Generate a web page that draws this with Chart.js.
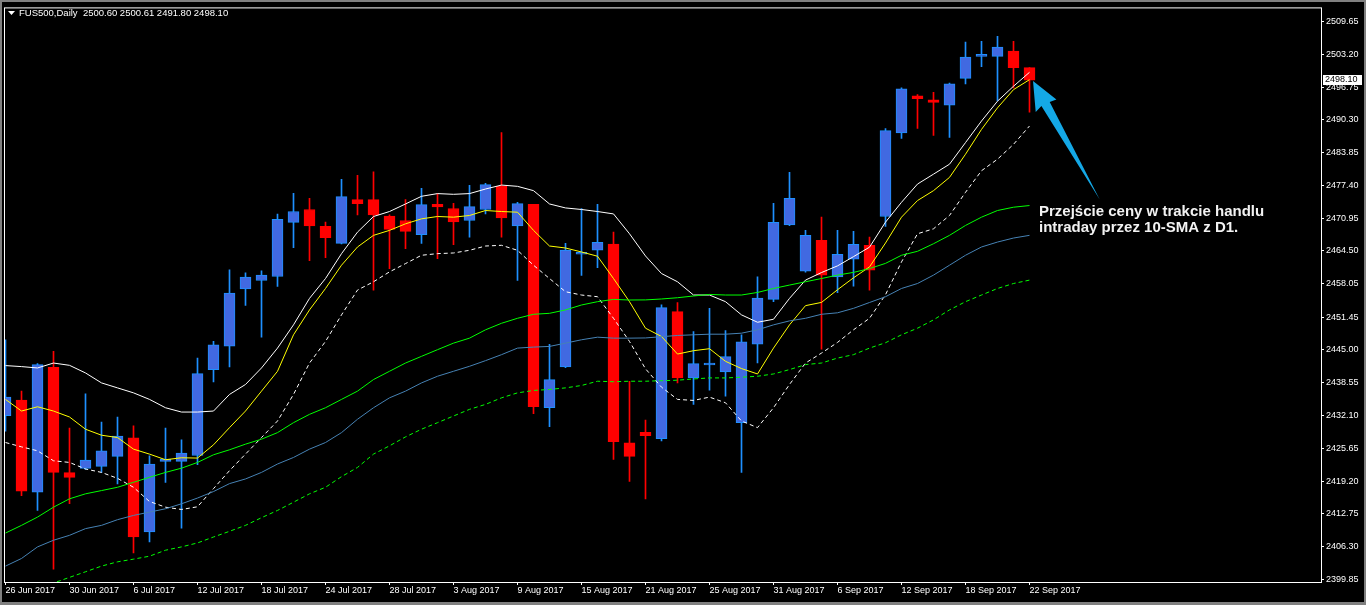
<!DOCTYPE html>
<html><head><meta charset="utf-8">
<script src="https://cdn.jsdelivr.net/npm/chart.js@4.4.0/dist/chart.umd.min.js"></script>
<style>html,body{margin:0;padding:0;background:#000;overflow:hidden}canvas{display:block}</style>
</head><body>
<canvas id="c" width="1366" height="605" style="width:1366px;height:605px"></canvas>
<script>
// ---- categories (trading days) ----
const days = ['26 Jun 2017','27 Jun 2017','28 Jun 2017','29 Jun 2017','30 Jun 2017',
 '3 Jul 2017','4 Jul 2017','5 Jul 2017','6 Jul 2017','7 Jul 2017','10 Jul 2017','11 Jul 2017','12 Jul 2017','13 Jul 2017','14 Jul 2017',
 '17 Jul 2017','18 Jul 2017','19 Jul 2017','20 Jul 2017','21 Jul 2017','24 Jul 2017','25 Jul 2017','26 Jul 2017','27 Jul 2017','28 Jul 2017','31 Jul 2017',
 '1 Aug 2017','2 Aug 2017','3 Aug 2017','4 Aug 2017','7 Aug 2017','8 Aug 2017','9 Aug 2017','10 Aug 2017','11 Aug 2017','14 Aug 2017','15 Aug 2017',
 '16 Aug 2017','17 Aug 2017','18 Aug 2017','21 Aug 2017','22 Aug 2017','23 Aug 2017','24 Aug 2017','25 Aug 2017','28 Aug 2017','29 Aug 2017','30 Aug 2017','31 Aug 2017',
 '1 Sep 2017','4 Sep 2017','5 Sep 2017','6 Sep 2017','7 Sep 2017','8 Sep 2017','11 Sep 2017','12 Sep 2017','13 Sep 2017','14 Sep 2017','15 Sep 2017',
 '18 Sep 2017','19 Sep 2017','20 Sep 2017','21 Sep 2017','22 Sep 2017'];

// ---- OHLC ----
const open = [2432.06,2435.13,2416.99,2441.59,2420.85,2421.69,2422.08,2424.04,2427.70,2409.16,
 2423.06,2423.06,2424.23,2441.14,2445.76,2457.00,2458.68,2459.46,2470.11,2472.66,
 2469.33,2466.00,2474.61,2474.61,2471.34,2470.50,2467.68,2473.69,2472.85,2470.50,
 2472.66,2477.22,2469.45,2473.69,2433.63,2441.65,2463.85,2464.63,2465.86,2426.72,
 2428.81,2427.56,2452.55,2439.50,2442.04,2440.67,2430.69,2446.16,2454.96,2469.64,
 2460.52,2466.59,2459.41,2462.87,2465.61,2471.28,2487.73,2495.03,2494.24,2493.21,
 2498.49,2502.80,2502.80,2503.83,2500.60];
const high = [2447.00,2436.90,2442.30,2444.72,2429.60,2436.37,2430.83,2431.81,2430.05,2424.17,
 2429.60,2427.30,2443.41,2446.68,2460.77,2460.19,2460.58,2471.74,2475.85,2474.87,
 2470.17,2478.59,2479.37,2480.09,2471.60,2474.61,2476.82,2475.79,2473.89,2477.41,
 2477.80,2487.79,2474.08,2473.70,2446.10,2465.99,2472.85,2473.69,2468.21,2438.85,
 2431.22,2453.87,2454.32,2448.64,2453.20,2448.84,2447.99,2459.41,2473.89,2479.96,
 2468.55,2471.15,2468.55,2468.35,2467.23,2488.57,2496.59,2495.28,2495.75,2497.57,
 2505.60,2505.79,2506.77,2505.79,2500.61];
const low = [2429.00,2416.34,2413.41,2401.86,2414.72,2421.50,2420.91,2418.63,2405.05,2407.20,
 2418.95,2409.94,2422.41,2438.72,2441.65,2453.79,2447.52,2457.51,2465.14,2462.59,
 2463.18,2465.90,2471.60,2456.80,2461.03,2464.94,2466.00,2462.99,2465.73,2467.23,
 2471.79,2467.23,2458.68,2432.45,2429.91,2441.50,2459.66,2461.22,2423.45,2419.14,
 2415.70,2427.11,2438.52,2434.29,2437.09,2435.92,2420.91,2442.43,2454.51,2469.50,
 2460.30,2445.17,2456.27,2457.58,2456.80,2469.33,2486.67,2488.63,2487.26,2486.87,
 2497.38,2500.76,2494.11,2496.59,2491.80];
const close = [2435.72,2417.19,2442.12,2420.91,2419.93,2423.33,2425.15,2428.03,2408.18,2422.55,
 2423.53,2424.70,2440.36,2446.03,2456.21,2459.35,2459.74,2470.70,2472.26,2469.45,
 2467.10,2475.20,2473.83,2471.60,2468.74,2468.35,2473.63,2473.16,2470.23,2473.24,
 2477.55,2471.01,2473.83,2433.82,2439.18,2464.69,2464.24,2466.20,2426.97,2424.04,
 2428.15,2453.34,2439.50,2442.32,2442.43,2443.69,2446.62,2455.24,2470.11,2474.87,
 2467.57,2459.74,2463.85,2465.80,2460.72,2488.18,2496.40,2494.50,2493.72,2497.38,
 2502.66,2503.19,2504.62,2500.60,2498.10];

// ---- indicator lines ----
const maUpper = [2441.93,2441.73,2441.46,2442.43,2441.98,2440.48,2438.52,2437.54,2436.56,2435.27,
 2433.63,2432.78,2432.78,2432.98,2436.25,2438.21,2441.46,2445.37,2449.95,2455.16,
 2459.07,2463.96,2468.21,2471.28,2472.26,2473.75,2475.26,2475.79,2475.65,2475.79,
 2476.69,2477.47,2477.22,2476.37,2473.75,2472.97,2472.66,2472.26,2471.79,2467.88,
 2463.51,2460.05,2458.43,2455.82,2455.82,2454.51,2451.91,2450.46,2451.05,2455.16,
 2458.76,2460.25,2461.56,2463.38,2465.24,2470.17,2474.08,2477.67,2479.62,2481.58,
 2485.83,2490.08,2493.99,2496.93,2499.67];
const sma10 = [2435.27,2432.98,2433.82,2432.98,2431.81,2429.40,2428.22,2427.76,2425.48,2424.50,
 2423.39,2423.78,2423.72,2426.33,2429.71,2432.98,2436.90,2440.81,2447.99,2452.89,
 2457.11,2461.69,2465.28,2467.57,2468.55,2469.84,2470.82,2471.28,2471.15,2471.48,
 2472.46,2472.26,2472.13,2468.55,2465.47,2465.08,2464.30,2463.46,2459.07,2454.51,
 2449.29,2447.66,2444.20,2444.86,2445.25,2442.77,2441.34,2440.28,2445.37,2449.95,
 2453.73,2454.37,2456.86,2459.21,2461.36,2466.06,2471.15,2474.42,2476.37,2478.98,
 2483.54,2488.43,2492.68,2496.26,2498.22];
const maLower = [2426.78,2425.93,2425.15,2423.19,2422.86,2421.57,2420.90,2419.73,2417.97,2415.17,
 2414.05,2413.60,2414.13,2417.71,2421.24,2424.50,2427.76,2431.02,2436.25,2442.43,
 2446.68,2451.91,2456.80,2458.43,2460.38,2462.01,2463.65,2463.97,2464.10,2464.63,
 2465.47,2465.61,2464.63,2461.69,2459.07,2456.47,2455.82,2455.49,2451.24,2446.68,
 2441.30,2437.68,2435.27,2435.07,2435.72,2434.61,2431.02,2429.71,2433.63,2438.21,
 2442.43,2444.39,2446.49,2448.97,2451.24,2455.88,2462.34,2467.88,2468.86,2471.48,
 2476.04,2480.29,2482.56,2485.49,2489.10];
const maGreen = [2408.96,2410.47,2412.10,2414.05,2415.70,2416.68,2417.32,2417.97,2418.95,2419.93,
 2420.90,2421.73,2422.86,2424.37,2425.35,2426.46,2427.44,2428.73,2430.69,2432.33,
 2433.63,2435.27,2436.90,2439.18,2440.81,2442.43,2443.75,2445.06,2446.35,2447.33,
 2448.97,2450.26,2451.24,2452.03,2452.22,2452.89,2453.86,2454.51,2454.96,2454.84,
 2454.86,2455.04,2455.29,2455.63,2455.94,2455.82,2455.82,2456.33,2457.11,2457.78,
 2458.43,2459.07,2459.74,2460.28,2461.03,2462.05,2463.65,2464.43,2465.92,2467.57,
 2469.52,2471.15,2472.46,2473.11,2473.44];
const maSteel = [2402.45,2403.95,2406.23,2407.54,2408.51,2409.83,2410.47,2411.59,2412.43,2413.08,
 2413.74,2414.72,2415.85,2417.13,2418.69,2419.61,2420.90,2422.55,2423.84,2425.48,
 2426.78,2428.73,2431.36,2433.63,2435.58,2436.90,2438.52,2439.83,2440.81,2441.79,
 2442.90,2444.08,2445.37,2445.57,2445.70,2446.35,2447.01,2447.52,2447.33,2447.33,
 2447.37,2447.62,2447.86,2447.99,2448.11,2448.11,2448.31,2448.97,2449.95,2450.73,
 2451.24,2452.03,2452.32,2453.20,2454.35,2455.49,2457.11,2458.09,2459.74,2461.69,
 2463.65,2465.28,2466.25,2467.04,2467.57];
const maGreenLow = [2395.00,2396.40,2397.80,2399.12,2400.23,2401.33,2402.45,2403.29,2403.82,2404.40,
 2405.58,2406.23,2407.01,2408.18,2409.30,2410.47,2411.98,2413.41,2415.03,2416.68,
 2417.97,2420.06,2421.88,2424.50,2426.13,2427.89,2429.40,2430.69,2432.00,2433.31,
 2434.29,2435.58,2436.56,2437.03,2437.23,2437.54,2438.01,2438.85,2438.75,2438.85,
 2438.85,2438.95,2439.05,2439.30,2439.50,2439.50,2439.64,2439.83,2440.28,2441.14,
 2442.12,2442.43,2443.41,2444.08,2445.37,2446.43,2447.99,2449.29,2450.93,2452.89,
 2454.51,2455.82,2457.11,2458.09,2458.76];

// ---- axis tick labels ----
const priceTicks = [2509.65,2503.20,2496.75,2490.30,2483.85,2477.40,2470.95,2464.50,2458.05,
 2451.45,2445.00,2438.55,2432.10,2425.65,2419.20,2412.75,2406.30,2399.85];
const dateTickEvery = 4;
const symbolName = 'FUS500,Daily';
const noteLines = ['Przejście ceny w trakcie handlu', 'intraday przez 10-SMA z D1.'];

// ---- build ----
Chart.defaults.font.family = "'Liberation Sans', Arial, sans-serif";
const idx = days.map((d, i) => i);
const bull = idx.map(i => close[i] >= open[i]);
const dateTickIdx = idx.filter(i => i % dateTickEvery === 0);
const last = days.length - 1;

const BULL_FILL = '#4169E1', BULL_EDGE = '#1E90FF', BEAR = '#FF0000';

function lineDs(arr, color, dash) {
  return { type: 'line', data: arr.map((v, i) => ({ x: i, y: v })), borderColor: color,
    borderWidth: 1, borderDash: dash || [], pointRadius: 0, tension: 0, fill: false, order: 1 };
}

const overlay = {
  id: 'overlay',
  beforeDraw(chart) {
    const c = chart.ctx;
    c.save(); c.fillStyle = '#000'; c.fillRect(0, 0, chart.width, chart.height); c.restore();
  },
  afterDraw(chart) {
    const c = chart.ctx, a = chart.chartArea, xs = chart.scales.x, ys = chart.scales.y;
    c.save();
    // window border
    c.fillStyle = '#808080';
    c.fillRect(0, 0, chart.width, 2); c.fillRect(0, 0, 2, chart.height);
    c.fillRect(0, chart.height - 3, chart.width, 3); c.fillRect(chart.width - 2, 0, 2, chart.height);
    // plot frame
    c.strokeStyle = '#ffffff'; c.lineWidth = 1;
    c.strokeRect(a.left + 0.5, a.top + 0.5, a.right - a.left, a.bottom - a.top);
    // header
    c.fillStyle = '#ffffff';
    c.beginPath(); c.moveTo(8, 11); c.lineTo(15, 11); c.lineTo(11.5, 15); c.closePath(); c.fill();
    c.font = "9.5px 'Liberation Sans', Arial, sans-serif";
    c.textBaseline = 'middle'; c.textAlign = 'left';
    const hdr = symbolName + '  ' + [open[last], high[last], low[last], close[last]].map(v => v.toFixed(2)).join(' ');
    c.fillText(hdr, 19, 13);
    // current price box
    const py = Math.round(ys.getPixelForValue(close[last]));
    c.fillStyle = '#ffffff';
    c.fillRect(a.right + 2, py - 5, 39, 10);
    c.fillStyle = '#000000';
    c.font = "9px 'Liberation Sans', Arial, sans-serif";
    c.fillText(close[last].toFixed(2), a.right + 4, py);
    // arrow annotation (tip at the last candle)
    const tx = xs.getPixelForValue(last + 0.22), ty = ys.getPixelForValue(close[last] - 0.14);
    c.fillStyle = '#14a8e6';
    c.beginPath();
    c.moveTo(tx, ty);
    c.lineTo(tx + 23.4, ty + 18.4);
    c.lineTo(tx + 16.7, ty + 21);
    c.lineTo(tx + 66.7, ty + 118.4);
    c.lineTo(tx + 8.4, ty + 25);
    c.lineTo(tx + 2.7, ty + 31);
    c.closePath(); c.fill();
    // note text
    c.fillStyle = '#f2f2f2';
    c.font = "bold 15px 'Liberation Sans', Arial, sans-serif";
    c.textBaseline = 'alphabetic';
    c.fillText(noteLines[0], tx + 6, ty + 135.3);
    c.fillText(noteLines[1], tx + 6, ty + 151);
    c.restore();
  }
};

new Chart(document.getElementById('c'), {
  type: 'bar',
  data: {
    datasets: [
      { type: 'bar', data: idx.map(i => ({ x: i, y: [low[i], high[i]] })),
        backgroundColor: idx.map(i => bull[i] ? BULL_EDGE : BEAR), borderWidth: 0,
        barThickness: 1, grouped: false, order: 3 },
      { type: 'bar', data: idx.map(i => ({ x: i, y: [open[i], close[i]] })),
        backgroundColor: idx.map(i => bull[i] ? BULL_FILL : BEAR),
        borderColor: idx.map(i => bull[i] ? BULL_EDGE : BEAR), borderWidth: 1, borderSkipped: false,
        barThickness: 11, grouped: false, order: 2 },
      lineDs(maGreenLow, '#00FF00', [4, 3]),
      lineDs(maSteel, '#4682B4'),
      lineDs(maGreen, '#00FF00'),
      lineDs(maLower, '#FFFFFF', [4, 3]),
      lineDs(maUpper, '#FFFFFF'),
      lineDs(sma10, '#FFFF00')
    ]
  },
  options: {
    responsive: false, animation: false, devicePixelRatio: 1,
    layout: { padding: { left: 4, top: 4, right: 0, bottom: 0 } },
    plugins: { legend: { display: false }, tooltip: { enabled: false } },
    scales: {
      x: {
        type: 'linear', min: -0.09375, max: 82.21875, offset: false,
        afterBuildTicks: s => { s.ticks = dateTickIdx.map(v => ({ value: v })); },
        afterFit: s => { s.height = 23; },
        grid: { drawOnChartArea: false, drawTicks: true, tickLength: 3, tickColor: '#ffffff', offset: false },
        border: { display: false },
        ticks: { color: '#ffffff', font: { size: 9 }, align: 'start', padding: 0, maxRotation: 0,
          autoSkip: false, callback: (v) => days[v] }
      },
      y: {
        position: 'right', min: 2399.32, max: 2512.45,
        afterBuildTicks: s => { s.ticks = priceTicks.map(v => ({ value: v })); },
        afterFit: s => { s.width = 45; },
        grid: { drawOnChartArea: false, drawTicks: true, tickLength: 3, tickColor: '#ffffff' },
        border: { display: false },
        ticks: { color: '#ffffff', font: { size: 9 }, padding: 2, autoSkip: false,
          callback: v => Number(v).toFixed(2) }
      }
    }
  },
  plugins: [overlay]
});
</script>
</body></html>
